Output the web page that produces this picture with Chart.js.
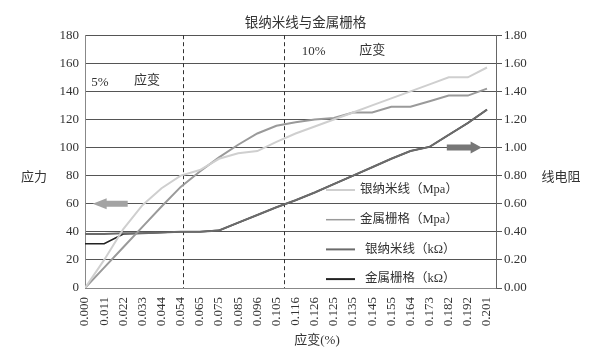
<!DOCTYPE html>
<html><head><meta charset="utf-8">
<script src="https://cdn.jsdelivr.net/npm/chart.js@4.4.0/dist/chart.umd.min.js"></script>
<style>html,body{margin:0;padding:0;background:#fff;}</style>
</head><body>
<canvas id="c" width="611" height="358"></canvas>
<script>
// ---- data ----
const strainLabels = ['0.000','0.011','0.022','0.033','0.044','0.054','0.065','0.075','0.085','0.096','0.105','0.116','0.126','0.125','0.135','0.145','0.155','0.164','0.173','0.182','0.192','0.201'];
const agnwStress  = [0,20,42,59,71,80,84,92,96,97.5,104,110,115,120,125,130,135,140,145,150,150,157];
const gridStress  = [0,14.5,29,43.5,58,72,83,93,102,110,115.5,118,120,121,125,125,129,129,133,137,137,142];
const agnwResist  = [0.385,0.385,0.39,0.39,0.395,0.40,0.40,0.41,0.465,0.52,0.575,0.625,0.68,0.74,0.80,0.86,0.92,0.975,1.005,1.09,1.175,1.27];
const gridResist  = [0.315,0.315,0.385,0.39,0.395,0.40,0.40,0.41,0.465,0.52,0.575,0.625,0.68,0.74,0.80,0.86,0.92,0.975,1.005,1.09,1.175,1.27];
const seriesNames = ['银纳米线（Mpa）','金属栅格（Mpa）','银纳米线（kΩ）','金属栅格（kΩ）'];
const chartTitle = '银纳米线与金属栅格';
const leftTitle = '应力', rightTitle = '线电阻', xTitle = '应变(%)';
const dashedAt = [5.12, 10.4];
const notes = [
  {text:'5%', x:0.78, y:146.6},
  {text:'应变', x:3.24, y:148},
  {text:'10%', x:11.94, y:168},
  {text:'应变', x:15.0, y:168.8}
];

const colors = ['#cfcfcf','#9a9a9a','#6b6b6b','#222222'];
const widths = [2,2,2,1.6];
const toPts = arr => arr.map((v,i)=>({x:i,y:v}));
const serif = '"Liberation Serif", "Noto Sans CJK SC", serif';
const cjk = '"Noto Sans CJK SC", "Liberation Serif", sans-serif';

function arrow(ctx, xTail, xTip, y, headLen, headH, shaftH, color){
  const dir = Math.sign(xTip - xTail);
  const base = xTip - dir*headLen;
  ctx.fillStyle = color;
  ctx.beginPath();
  ctx.moveTo(xTail, y - shaftH/2);
  ctx.lineTo(base, y - shaftH/2);
  ctx.lineTo(base, y - headH/2);
  ctx.lineTo(xTip, y);
  ctx.lineTo(base, y + headH/2);
  ctx.lineTo(base, y + shaftH/2);
  ctx.lineTo(xTail, y + shaftH/2);
  ctx.closePath();
  ctx.fill();
}

const decor = {
  id:'decor',
  beforeDatasetsDraw(chart){
    const {ctx, chartArea:a, scales:{x}} = chart;
    ctx.save();
    ctx.strokeStyle = '#333'; ctx.lineWidth = 1; ctx.setLineDash([4,3]);
    dashedAt.forEach(v=>{
      const px = Math.round(x.getPixelForValue(v)) + 0.5;
      ctx.beginPath(); ctx.moveTo(px, a.top); ctx.lineTo(px, a.bottom); ctx.stroke();
    });
    ctx.restore();
  },
  afterDatasetsDraw(chart){
    const {ctx, scales:{x, y, y1}} = chart;
    ctx.save();
    arrow(ctx, x.getPixelForValue(2.23), x.getPixelForValue(0.40), y.getPixelForValue(60), 14, 11, 6, '#a3a3a3');
    arrow(ctx, x.getPixelForValue(18.9), x.getPixelForValue(20.72), y1.getPixelForValue(1.0), 11, 12, 6, '#777777');
    ctx.fillStyle = '#333';
    ctx.textAlign = 'center'; ctx.textBaseline = 'middle';
    notes.forEach(n=>{
      ctx.font = '13px ' + serif;
      ctx.fillText(n.text, x.getPixelForValue(n.x), y.getPixelForValue(n.y));
    });
    ctx.restore();
  },
  afterDraw(chart){
    const {ctx, chartArea:a, scales:{y}} = chart;
    ctx.save();
    ctx.fillStyle = '#333';
    ctx.textBaseline = 'middle'; ctx.textAlign = 'center';
    ctx.font = '13px ' + cjk;
    const ty = y.getPixelForValue(80);
    ctx.fillText(leftTitle, a.left - 51, ty);
    ctx.fillText(rightTitle, a.right + 65, ty);
    ctx.font = '13px ' + serif;
    ctx.fillText(xTitle, 317, 341);
    // legend
    const lx0 = a.right - 170, lx1 = a.right - 141;
    chart.data.datasets.forEach((ds,i)=>{
      const ly = a.bottom - 98 + i*29.7;
      ctx.strokeStyle = ds.borderColor; ctx.lineWidth = i===1 ? 1.5 : 2;
      ctx.beginPath(); ctx.moveTo(lx0, ly); ctx.lineTo(lx1, ly); ctx.stroke();
      ctx.textAlign = 'left';
      ctx.font = '12.5px ' + serif;
      ctx.fillStyle = '#333';
      ctx.fillText(ds.label, i < 2 ? lx1 + 5 : lx1 + 10, ly);
    });
    ctx.restore();
  }
};

new Chart(document.getElementById('c'), {
  type:'line',
  data:{
    datasets: [agnwStress, gridStress, agnwResist, gridResist].map((arr,i)=>({
      label: seriesNames[i],
      data: toPts(arr),
      borderColor: colors[i],
      backgroundColor: colors[i],
      borderWidth: widths[i],
      pointRadius: 0,
      tension: 0,
      fill: false,
      yAxisID: i < 2 ? 'y' : 'y1'
    }))
  },
  options:{
    responsive:false, animation:false, devicePixelRatio:1,
    layout:{padding:0},
    plugins:{
      legend:{display:false}, tooltip:{enabled:false},
      title:{display:true, text:chartTitle, color:'#333', font:{size:13.5, family:cjk, weight:'normal'}, padding:{top:14, bottom:5}}
    },
    scales:{
      x:{
        type:'linear', min:0, max:21.47,
        grid:{drawOnChartArea:false, drawTicks:false},
        border:{display:true, color:'#888', width:1},
        ticks:{stepSize:1, autoSkip:false, includeBounds:false, minRotation:90, maxRotation:90, padding:9,
          color:'#333', font:{size:13, family:serif},
          callback:(v)=> Number.isInteger(v) && strainLabels[v] !== undefined ? strainLabels[v] : ''},
        afterFit:(s)=>{ s.height = 70; }
      },
      y:{
        position:'left', min:0, max:180,
        grid:{color:'#555', lineWidth:1, drawTicks:false},
        border:{display:true, color:'#888', width:1},
        ticks:{stepSize:20, padding:6, color:'#333', font:{size:13, family:serif}},
        afterFit:(s)=>{ s.width = 85; }
      },
      y1:{
        position:'right', min:0, max:1.8,
        grid:{drawOnChartArea:false, drawTicks:true, tickLength:6, color:'#555'},
        border:{display:true, color:'#666', width:1},
        ticks:{stepSize:0.2, padding:2, color:'#333', font:{size:13, family:serif}, callback:(v)=>Number(v).toFixed(2)},
        afterFit:(s)=>{ s.width = 115; }
      }
    }
  },
  plugins:[decor]
});
</script>
</body></html>
